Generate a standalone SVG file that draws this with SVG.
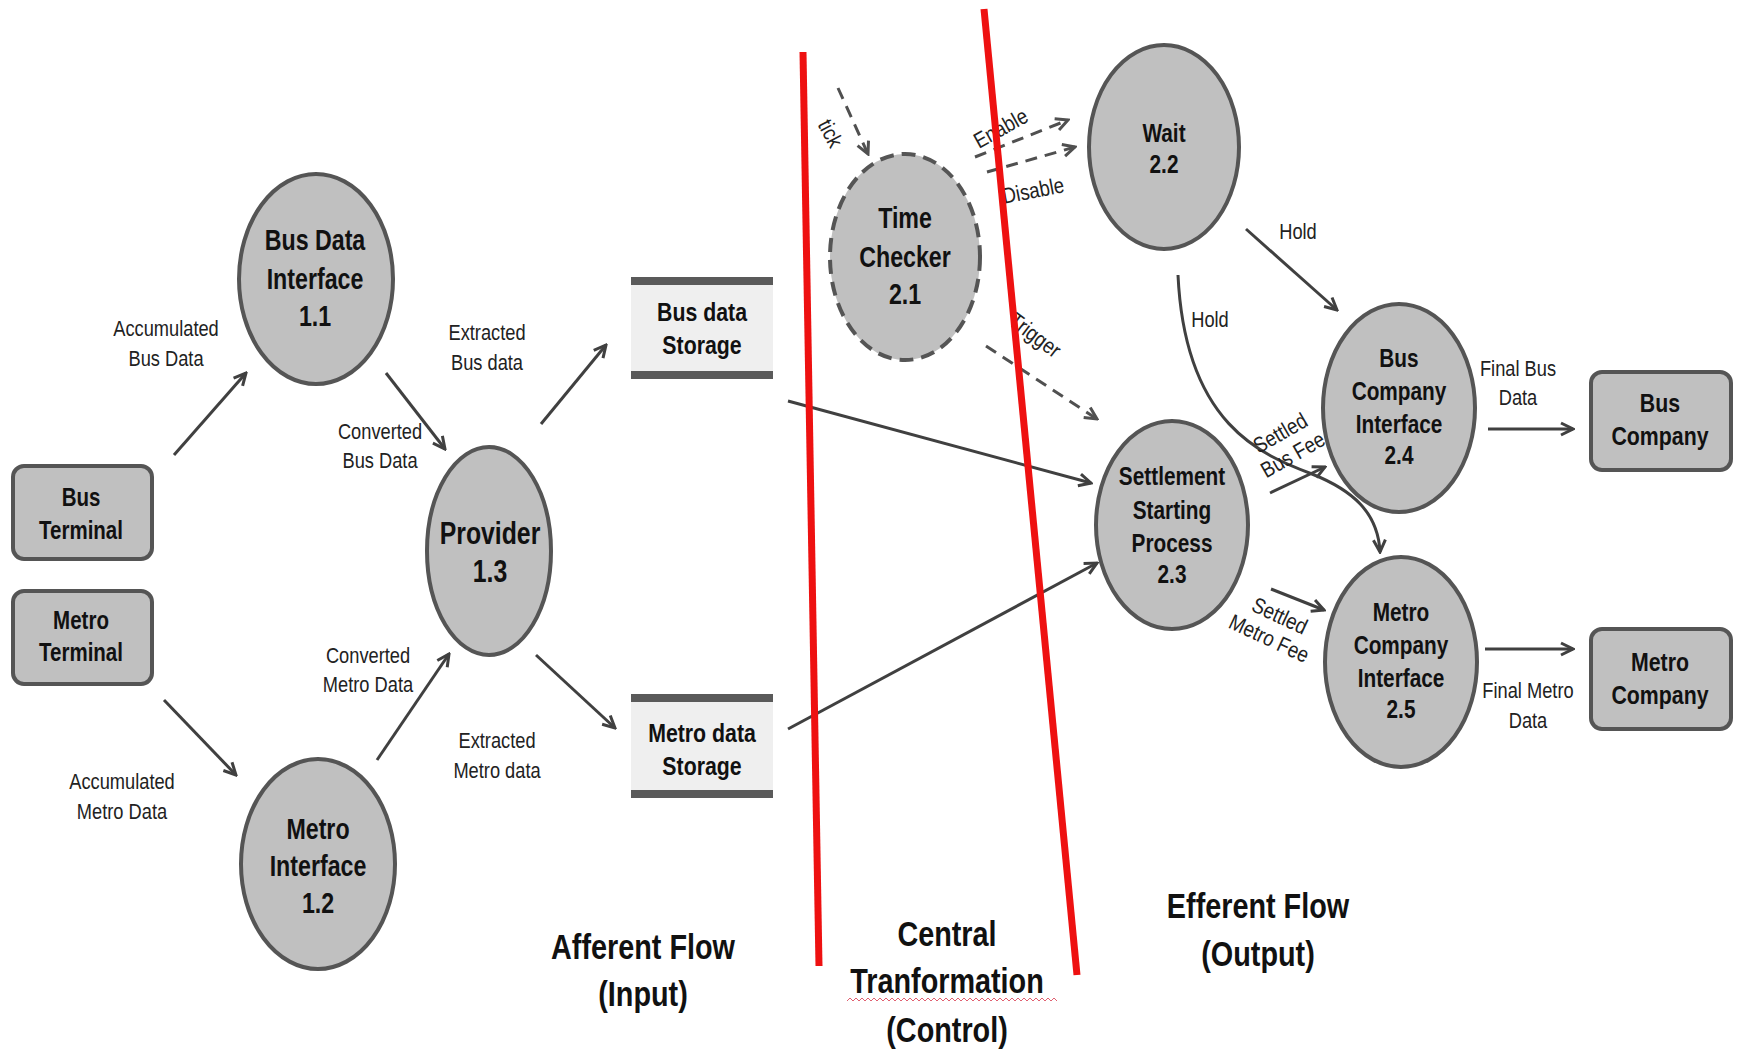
<svg xmlns="http://www.w3.org/2000/svg" width="1737" height="1051" viewBox="0 0 1737 1051">
<style>
.bg{fill:#ffffff}
.proc{fill:#c0c0c0;stroke:#555555;stroke-width:4}
.dproc{fill:#c0c0c0;stroke:#555555;stroke-width:4;stroke-dasharray:14 8}
.term{fill:#c0c0c0;stroke:#555555;stroke-width:4}
.storefill{fill:#efefef}
.bar{fill:#5a5a5a}
.nt{font-family:"Liberation Sans",Arial,sans-serif;font-weight:bold;fill:#111111;text-anchor:middle}
.lt{font-family:"Liberation Sans",Arial,sans-serif;fill:#222222;text-anchor:middle;font-size:22px}
.tt{font-family:"Liberation Sans",Arial,sans-serif;font-weight:bold;fill:#111111;text-anchor:middle;font-size:36px}
.flow{fill:none;stroke:#404040;stroke-width:3}
.dflow{fill:none;stroke:#505050;stroke-width:3;stroke-dasharray:12 8}
.red{stroke:#ee1111;stroke-width:7;fill:none}
</style>
<defs>
<marker id="arr" viewBox="0 0 16 16" refX="14" refY="8" markerWidth="16" markerHeight="16" markerUnits="userSpaceOnUse" orient="auto">
<path d="M2,2 L14,8 L2,14" fill="none" stroke="#404040" stroke-width="3"/>
</marker>
<marker id="darr" viewBox="0 0 16 16" refX="14" refY="8" markerWidth="16" markerHeight="16" markerUnits="userSpaceOnUse" orient="auto">
<path d="M2,2 L14,8 L2,14" fill="none" stroke="#505050" stroke-width="3"/>
</marker>
</defs>
<rect class="bg" x="0" y="0" width="1737" height="1051"/>

<g id="bus-terminal">
<rect class="term" x="13" y="466" width="139" height="93" rx="11"/>
<g transform="translate(81,0) scale(0.82,1)"><text class="nt" font-size="25" x="0" y="506">Bus</text><text class="nt" font-size="25" x="0" y="539">Terminal</text></g>
</g>
<g id="metro-terminal">
<rect class="term" x="13" y="591" width="139" height="93" rx="11"/>
<g transform="translate(81,0) scale(0.82,1)"><text class="nt" font-size="25" x="0" y="629">Metro</text><text class="nt" font-size="25" x="0" y="661">Terminal</text></g>
</g>

<g id="p11">
<ellipse class="proc" cx="316" cy="279" rx="77" ry="105"/>
<g transform="translate(315,0) scale(0.8,1)"><text class="nt" font-size="29" x="0" y="250">Bus Data</text><text class="nt" font-size="29" x="0" y="289">Interface</text><text class="nt" font-size="29" x="0" y="326">1.1</text></g>
</g>
<g id="p12">
<ellipse class="proc" cx="318" cy="864" rx="77" ry="105"/>
<g transform="translate(318,0) scale(0.8,1)"><text class="nt" font-size="29" x="0" y="839">Metro</text><text class="nt" font-size="29" x="0" y="876">Interface</text><text class="nt" font-size="29" x="0" y="913">1.2</text></g>
</g>
<g id="p13">
<ellipse class="proc" cx="489" cy="551" rx="62" ry="104"/>
<g transform="translate(490,0) scale(0.8,1)"><text class="nt" font-size="31" x="0" y="544">Provider</text><text class="nt" font-size="31" x="0" y="582">1.3</text></g>
</g>

<g id="bus-store">
<rect class="storefill" x="631" y="284" width="142" height="88"/>
<rect class="bar" x="631" y="277" width="142" height="8"/>
<rect class="bar" x="631" y="371" width="142" height="8"/>
<g transform="translate(702,0) scale(0.82,1)"><text class="nt" font-size="26" x="0" y="321">Bus data</text><text class="nt" font-size="26" x="0" y="354">Storage</text></g>
</g>
<g id="metro-store">
<rect class="storefill" x="631" y="701" width="142" height="90"/>
<rect class="bar" x="631" y="694" width="142" height="8"/>
<rect class="bar" x="631" y="790" width="142" height="8"/>
<g transform="translate(702,0) scale(0.82,1)"><text class="nt" font-size="26" x="0" y="742">Metro data</text><text class="nt" font-size="26" x="0" y="775">Storage</text></g>
</g>

<g id="p21">
<ellipse class="dproc" cx="905" cy="257" rx="75" ry="103"/>
<g transform="translate(905,0) scale(0.8,1)"><text class="nt" font-size="29" x="0" y="228">Time</text><text class="nt" font-size="29" x="0" y="267">Checker</text><text class="nt" font-size="29" x="0" y="304">2.1</text></g>
</g>
<g id="p22">
<ellipse class="proc" cx="1164" cy="147" rx="75" ry="102"/>
<g transform="translate(1164,0) scale(0.8,1)"><text class="nt" font-size="26" x="0" y="142">Wait</text><text class="nt" font-size="26" x="0" y="173">2.2</text></g>
</g>
<g id="p23">
<ellipse class="proc" cx="1172" cy="525" rx="76" ry="104"/>
<g transform="translate(1172,0) scale(0.8,1)"><text class="nt" font-size="26" x="0" y="485">Settlement</text><text class="nt" font-size="26" x="0" y="519">Starting</text><text class="nt" font-size="26" x="0" y="552">Process</text><text class="nt" font-size="26" x="0" y="583">2.3</text></g>
</g>
<g id="p24">
<ellipse class="proc" cx="1399" cy="408" rx="76" ry="104"/>
<g transform="translate(1399,0) scale(0.8,1)"><text class="nt" font-size="26" x="0" y="367">Bus</text><text class="nt" font-size="26" x="0" y="400">Company</text><text class="nt" font-size="26" x="0" y="433">Interface</text><text class="nt" font-size="26" x="0" y="464">2.4</text></g>
</g>
<g id="p25">
<ellipse class="proc" cx="1401" cy="662" rx="76" ry="105"/>
<g transform="translate(1401,0) scale(0.8,1)"><text class="nt" font-size="26" x="0" y="621">Metro</text><text class="nt" font-size="26" x="0" y="654">Company</text><text class="nt" font-size="26" x="0" y="687">Interface</text><text class="nt" font-size="26" x="0" y="718">2.5</text></g>
</g>

<g id="bus-company">
<rect class="term" x="1591" y="372" width="140" height="98" rx="11"/>
<g transform="translate(1660,0) scale(0.82,1)"><text class="nt" font-size="26" x="0" y="412">Bus</text><text class="nt" font-size="26" x="0" y="445">Company</text></g>
</g>
<g id="metro-company">
<rect class="term" x="1591" y="629" width="140" height="100" rx="11"/>
<g transform="translate(1660,0) scale(0.82,1)"><text class="nt" font-size="26" x="0" y="671">Metro</text><text class="nt" font-size="26" x="0" y="704">Company</text></g>
</g>

<g id="connectors">
<line class="flow" x1="174" y1="455" x2="246" y2="373" marker-end="url(#arr)"/>
<line class="flow" x1="386" y1="373" x2="445" y2="449" marker-end="url(#arr)"/>
<line class="flow" x1="541" y1="424" x2="606" y2="345" marker-end="url(#arr)"/>
<line class="flow" x1="164" y1="700" x2="236" y2="775" marker-end="url(#arr)"/>
<line class="flow" x1="377" y1="760" x2="449" y2="654" marker-end="url(#arr)"/>
<line class="flow" x1="536" y1="655" x2="615" y2="728" marker-end="url(#arr)"/>
<line class="flow" x1="788" y1="401" x2="1091" y2="483" marker-end="url(#arr)"/>
<line class="flow" x1="788" y1="729" x2="1097" y2="563" marker-end="url(#arr)"/>
<line class="dflow" x1="838" y1="88" x2="868" y2="154" marker-end="url(#darr)"/>
<line class="dflow" x1="975" y1="157" x2="1068" y2="120" marker-end="url(#darr)"/>
<line class="dflow" x1="987" y1="172" x2="1075" y2="147" marker-end="url(#darr)"/>
<line class="dflow" x1="986" y1="346" x2="1097" y2="419" marker-end="url(#darr)"/>
<line class="flow" x1="1246" y1="229" x2="1337" y2="310" marker-end="url(#arr)"/>
<path class="flow" d="M1178,275 C1185,425 1262,455 1312,474 C1352,490 1378,512 1380,552" marker-end="url(#arr)"/>
<line class="flow" x1="1270" y1="493" x2="1325" y2="467" marker-end="url(#arr)"/>
<line class="flow" x1="1271" y1="589" x2="1324" y2="610" marker-end="url(#arr)"/>
<line class="flow" x1="1488" y1="429" x2="1573" y2="429" marker-end="url(#arr)"/>
<line class="flow" x1="1485" y1="649" x2="1573" y2="649" marker-end="url(#arr)"/>
</g>

<g id="labels">
<g transform="translate(166,0) scale(0.83,1)"><text class="lt" x="0" y="336">Accumulated</text><text class="lt" x="0" y="366">Bus Data</text></g>
<g transform="translate(487,0) scale(0.83,1)"><text class="lt" x="0" y="340">Extracted</text><text class="lt" x="0" y="370">Bus data</text></g>
<g transform="translate(380,0) scale(0.83,1)"><text class="lt" x="0" y="439">Converted</text><text class="lt" x="0" y="468">Bus Data</text></g>
<g transform="translate(368,0) scale(0.83,1)"><text class="lt" x="0" y="663">Converted</text><text class="lt" x="0" y="692">Metro Data</text></g>
<g transform="translate(122,0) scale(0.83,1)"><text class="lt" x="0" y="789">Accumulated</text><text class="lt" x="0" y="819">Metro Data</text></g>
<g transform="translate(497,0) scale(0.83,1)"><text class="lt" x="0" y="748">Extracted</text><text class="lt" x="0" y="778">Metro data</text></g>
<g transform="translate(831,133) rotate(62) scale(0.85,1)"><text class="lt" font-size="26" x="0" y="8">tick</text></g>
<g transform="translate(1000,127) rotate(-29) scale(0.85,1)"><text class="lt" font-size="28" x="0" y="9">Enable</text></g>
<g transform="translate(1033,189) rotate(-11) scale(0.85,1)"><text class="lt" font-size="28" x="0" y="9">Disable</text></g>
<g transform="translate(1036,334) rotate(37) scale(0.85,1)"><text class="lt" font-size="28" x="0" y="9">Trigger</text></g>
<g transform="translate(1298,0) scale(0.83,1)"><text class="lt" x="0" y="239">Hold</text></g>
<g transform="translate(1210,0) scale(0.83,1)"><text class="lt" x="0" y="327">Hold</text></g>
<g transform="translate(1286,443) rotate(-30) scale(0.85,1)"><text class="lt" font-size="23" x="0" y="-4">Settled</text><text class="lt" font-size="23" x="0" y="21">Bus Fee</text></g>
<g transform="translate(1274,628) rotate(25) scale(0.85,1)"><text class="lt" font-size="23" x="0" y="-6">Settled</text><text class="lt" font-size="23" x="0" y="19">Metro Fee</text></g>
<g transform="translate(1518,0) scale(0.83,1)"><text class="lt" x="0" y="376">Final Bus</text><text class="lt" x="0" y="405">Data</text></g>
<g transform="translate(1528,0) scale(0.83,1)"><text class="lt" x="0" y="698">Final Metro</text><text class="lt" x="0" y="728">Data</text></g>
</g>

<g id="boundaries">
<line class="red" x1="803" y1="52" x2="819" y2="966"/>
<line class="red" x1="984" y1="9" x2="1077" y2="975"/>
</g>

<g id="titles">
<g transform="translate(643,0) scale(0.8,1)"><text class="tt" x="0" y="959">Afferent Flow</text><text class="tt" x="0" y="1006">(Input)</text></g>
<g transform="translate(947,0) scale(0.8,1)"><text class="tt" x="0" y="946">Central</text><text class="tt" x="0" y="993">Tranformation</text><text class="tt" x="0" y="1042">(Control)</text></g>
<path d="M847,1001 l3,-3 l3,3 l3,-3 l3,3 l3,-3 l3,3 l3,-3 l3,3 l3,-3 l3,3 l3,-3 l3,3 l3,-3 l3,3 l3,-3 l3,3 l3,-3 l3,3 l3,-3 l3,3 l3,-3 l3,3 l3,-3 l3,3 l3,-3 l3,3 l3,-3 l3,3 l3,-3 l3,3 l3,-3 l3,3 l3,-3 l3,3 l3,-3 l3,3 l3,-3 l3,3 l3,-3 l3,3 l3,-3 l3,3 l3,-3 l3,3 l3,-3 l3,3 l3,-3 l3,3 l3,-3 l3,3 l3,-3 l3,3 l3,-3 l3,3 l3,-3 l3,3 l3,-3 l3,3 l3,-3 l3,3 l3,-3 l3,3 l3,-3 l3,3 l3,-3 l3,3 l3,-3 l3,3 l3,-3 l3,3" fill="none" stroke="#e06070" stroke-width="1"/>
<g transform="translate(1258,0) scale(0.8,1)"><text class="tt" x="0" y="918">Efferent Flow</text><text class="tt" x="0" y="966">(Output)</text></g>
</g>
</svg>
